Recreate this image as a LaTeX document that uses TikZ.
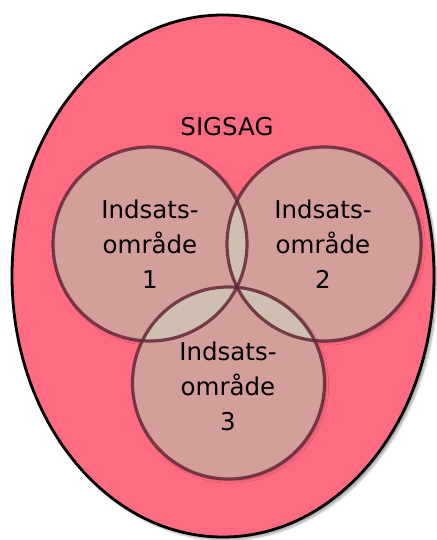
\documentclass[tikz,border=0pt]{standalone}
\usepackage{fontspec}
\setmainfont{DejaVu Sans}
\usetikzlibrary{shadows.blur}
\definecolor{bgpink}{HTML}{FF6B81}
\definecolor{circfill}{HTML}{D49E9A}
\definecolor{lensfill}{HTML}{CFBFB0}
\definecolor{circline}{HTML}{642836}
\tikzset{
  outer/.style={fill=bgpink, draw=black, line width=2.8pt,
    blur shadow={shadow xshift=3pt, shadow yshift=-3pt, shadow opacity=35, shadow blur steps=6}},
  circbase/.style={fill=circfill},
  circshadow/.style={blur shadow={shadow xshift=2pt, shadow yshift=-2pt, shadow opacity=20, shadow blur steps=5}},
  circedge/.style={draw=circline, draw opacity=0.85, line width=3.2pt},
  lbl/.style={align=center, inner sep=0pt, font=\fontsize{24.5}{35}\selectfont, text=black}
}
\begin{document}
\begin{tikzpicture}[x=1pt,y=-1pt]
\useasboundingbox (0,0) rectangle (436,540);
\path[outer] (223,276) ellipse [x radius=211, y radius=261];
% circles
\fill[circbase, circshadow] (150,244) circle [radius=97];
\fill[circbase, circshadow] (324,244) circle [radius=97];
\fill[circbase] (150,244) circle [radius=97];
\fill[circbase, circshadow] (228.5,383) circle [radius=96];
% lenses
\begin{scope}
  \clip (150,244) circle [radius=97];
  \fill[lensfill] (324,244) circle [radius=97];
  \fill[lensfill] (228.5,383) circle [radius=96];
\end{scope}
\begin{scope}
  \clip (324,244) circle [radius=97];
  \fill[lensfill] (228.5,383) circle [radius=96];
\end{scope}
% outlines
\draw[circedge] (150,244) circle [radius=97];
\draw[circedge] (324,244) circle [radius=97];
\draw[circedge] (228.5,383) circle [radius=96];
% labels
\node[lbl] (sig) at (227,127) {SIGSAG};
\node[lbl] (t1) at (150,244) {Indsats-\\område\\1};
\node[lbl] (t2) at (323,244) {Indsats-\\område\\2};
\node[lbl] (t3) at (228,386) {Indsats-\\område\\3};
\end{tikzpicture}
\end{document}
